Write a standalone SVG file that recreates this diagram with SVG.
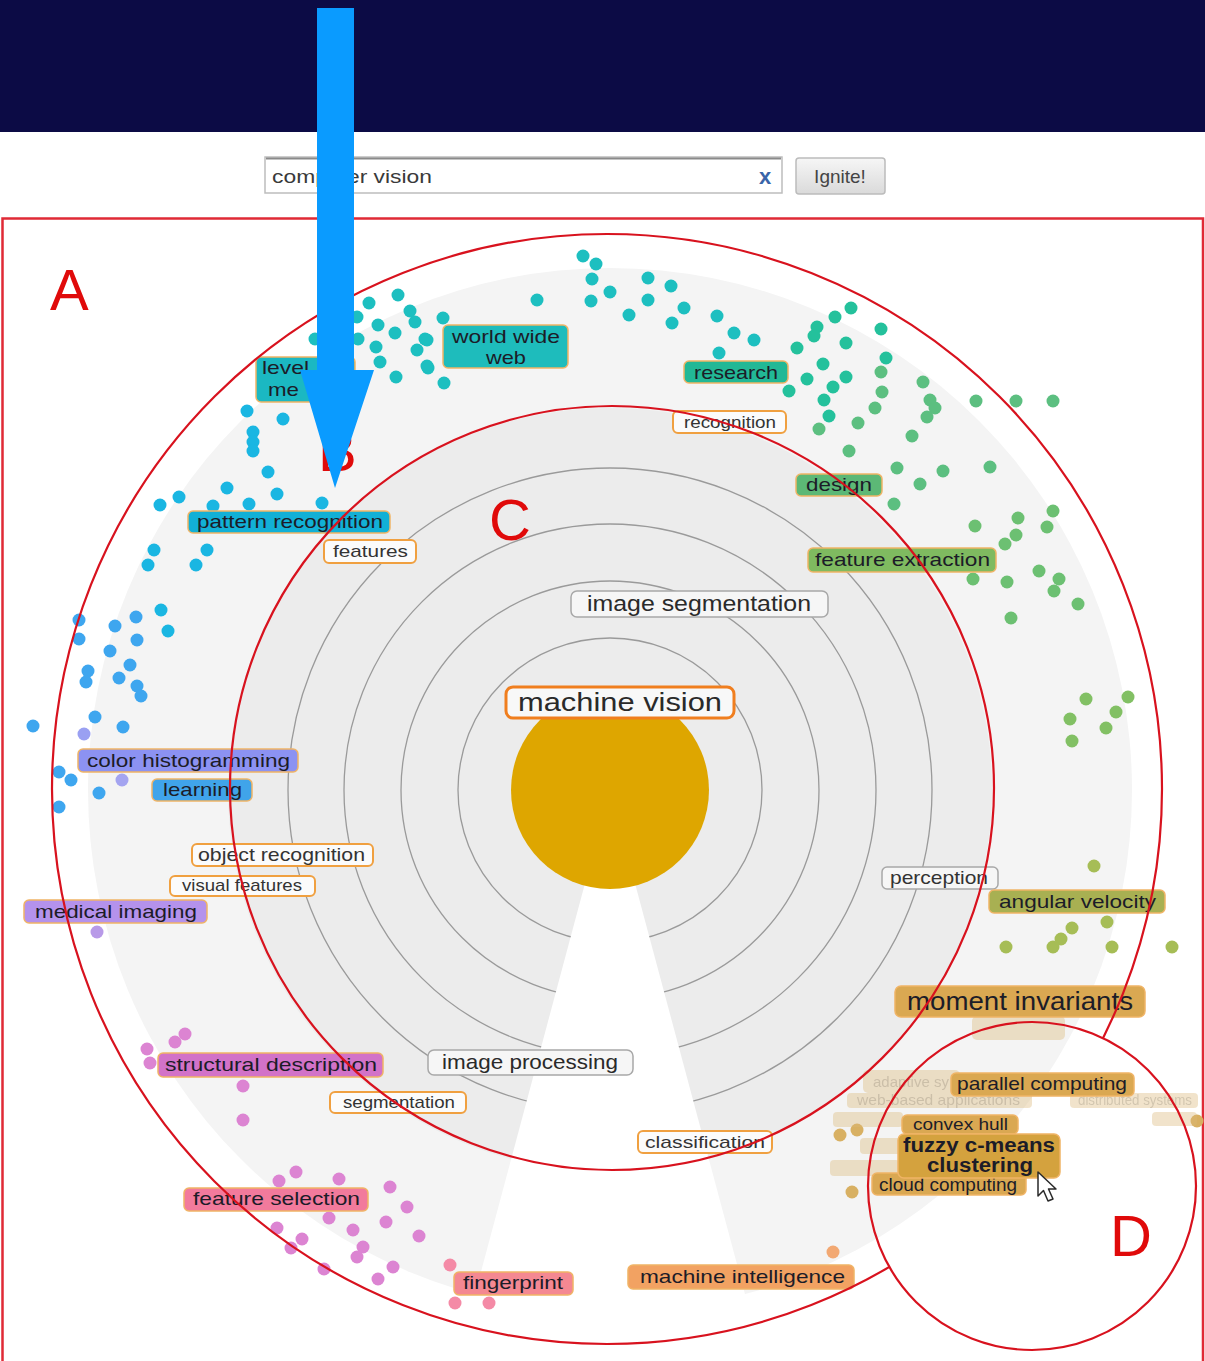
<svg xmlns="http://www.w3.org/2000/svg" width="1205" height="1361" viewBox="0 0 1205 1361">
  <defs>
    <style>
      .lbl { font-family: "Liberation Sans", Arial, sans-serif; font-size: 19px; fill: #1c1c28; }
      .sm { font-size: 17px; fill: #333; }
      .box { stroke: #f0b466; stroke-width: 1.5; }
      .wbox { fill: #fbfbfb; stroke: #f0a040; stroke-width: 2; }
      .gbox { fill: #f6f6f6; stroke: #a8a8a8; stroke-width: 1.5; }
      .fade rect { fill: #dcb878; stroke: none; }
      .fade text { font-family: "Liberation Sans", Arial, sans-serif; font-size: 15px; fill: #8a6a30; }
      .ring { fill: none; stroke: #9a9a9a; stroke-width: 1.3; }
      .red { fill: none; stroke: #d8121e; stroke-width: 2.2; }
      .mark { font-family: "Liberation Sans", Arial, sans-serif; font-size: 58px; fill: #e00a0a; }
      .d-teal circle { fill: #1dbfc0; }
      .d-cyan circle { fill: #1ab6e2; }
      .d-blue circle { fill: #3ea6ef; }
      .d-gteal circle { fill: #24c19c; }
      .d-green circle { fill: #5cbf80; }
      .d-green2 circle { fill: #6cc072; }
      .d-yg circle { fill: #82c064; }
      .d-olive circle { fill: #a6bd56; }
      .d-mag circle { fill: #dc84d2; }
      .d-pink circle { fill: #f48aa6; }
    </style>
    <linearGradient id="btn" x1="0" y1="0" x2="0" y2="1">
      <stop offset="0" stop-color="#f6f6f6"/>
      <stop offset="1" stop-color="#dadada"/>
    </linearGradient>
    <mask id="outsideD">
      <rect x="0" y="0" width="1205" height="1361" fill="#fff"/>
      <circle cx="1032" cy="1186" r="164" fill="#000"/>
    </mask>
  </defs>

  <!-- page background and title bar -->
  <rect x="0" y="0" width="1205" height="1361" fill="#ffffff"/>
  <rect x="0" y="0" width="1205" height="132" fill="#0c0b45"/>

  <!-- search field -->
  <g id="search">
    <rect x="265" y="157" width="517" height="36" fill="#fff" stroke="#bdbdbd" stroke-width="1.5"/>
    <line x1="266" y1="158.5" x2="781" y2="158.5" stroke="#8a8a8a" stroke-width="2"/>
    <text class="lbl" x="272" y="183" style="fill:#3a3a3a" textLength="160" lengthAdjust="spacingAndGlyphs">computer vision</text>
    <text x="759" y="184" style="font-family:'Liberation Sans',Arial,sans-serif;font-size:22px;font-weight:bold;fill:#3a64a8">x</text>
  </g>
  <g id="ignite-button">
    <rect x="796" y="158" width="89" height="36" rx="3" fill="url(#btn)" stroke="#bcbcbc" stroke-width="1.5"/>
    <text class="lbl" x="840" y="183" text-anchor="middle" style="fill:#444">Ignite!</text>
  </g>

  <!-- frame round the view -->
  <path d="M2.5,1361 V218.5 H1203 V1361" fill="none" stroke="#e02a36" stroke-width="2.5"/>

  <!-- radial backdrop: outer band, inner disc, rings, open wedge -->
  <circle cx="610" cy="790" r="522" fill="#f4f4f4"/>
  <circle cx="610" cy="790" r="382" fill="#ececec"/>
  <circle class="ring" cx="610" cy="790" r="152"/>
  <circle class="ring" cx="610" cy="790" r="209"/>
  <circle class="ring" cx="610" cy="790" r="266"/>
  <circle class="ring" cx="610" cy="790" r="322"/>
  <polygon points="610,790 452,1380 768,1380" fill="#ffffff"/>

  <!-- focus term -->
  <circle id="focus" cx="610" cy="790" r="99" fill="#dea600"/>

  <!-- term dots -->
  <g class="d-teal">
    <circle cx="398" cy="295" r="6.5"/><circle cx="369" cy="303" r="6.5"/><circle cx="410" cy="311" r="6.5"/>
    <circle cx="357" cy="317" r="6.5"/><circle cx="378" cy="325" r="6.5"/><circle cx="415" cy="322" r="6.5"/>
    <circle cx="395" cy="333" r="6.5"/><circle cx="425" cy="339" r="6.5"/><circle cx="358" cy="339" r="6.5"/>
    <circle cx="376" cy="347" r="6.5"/><circle cx="417" cy="350" r="6.5"/><circle cx="380" cy="362" r="6.5"/>
    <circle cx="428" cy="368" r="6.5"/><circle cx="396" cy="377" r="6.5"/><circle cx="443" cy="318" r="6.5"/>
    <circle cx="444" cy="383" r="6.5"/><circle cx="315" cy="339" r="6.5"/><circle cx="427" cy="340" r="6.5"/>
    <circle cx="427" cy="366" r="6.5"/><circle cx="537" cy="300" r="6.5"/><circle cx="583" cy="256" r="6.5"/>
    <circle cx="596" cy="264" r="6.5"/><circle cx="592" cy="279" r="6.5"/><circle cx="610" cy="292" r="6.5"/>
    <circle cx="591" cy="301" r="6.5"/><circle cx="648" cy="278" r="6.5"/><circle cx="671" cy="286" r="6.5"/>
    <circle cx="648" cy="300" r="6.5"/><circle cx="629" cy="315" r="6.5"/><circle cx="684" cy="308" r="6.5"/>
    <circle cx="672" cy="323" r="6.5"/><circle cx="717" cy="316" r="6.5"/><circle cx="734" cy="333" r="6.5"/>
    <circle cx="754" cy="340" r="6.5"/><circle cx="719" cy="353" r="6.5"/>
  </g>
  <g class="d-gteal">
    <circle cx="835" cy="317" r="6.5"/><circle cx="851" cy="308" r="6.5"/><circle cx="881" cy="329" r="6.5"/>
    <circle cx="817" cy="327" r="6.5"/><circle cx="814" cy="336" r="6.5"/><circle cx="797" cy="348" r="6.5"/>
    <circle cx="846" cy="343" r="6.5"/><circle cx="886" cy="358" r="6.5"/><circle cx="823" cy="364" r="6.5"/>
    <circle cx="807" cy="379" r="6.5"/><circle cx="846" cy="377" r="6.5"/><circle cx="833" cy="387" r="6.5"/>
    <circle cx="789" cy="391" r="6.5"/><circle cx="824" cy="400" r="6.5"/><circle cx="829" cy="416" r="6.5"/>
  </g>
  <g class="d-green">
    <circle cx="881" cy="372" r="6.5"/><circle cx="882" cy="392" r="6.5"/><circle cx="875" cy="408" r="6.5"/>
    <circle cx="858" cy="423" r="6.5"/><circle cx="819" cy="429" r="6.5"/><circle cx="849" cy="451" r="6.5"/>
    <circle cx="912" cy="436" r="6.5"/><circle cx="923" cy="382" r="6.5"/><circle cx="930" cy="400" r="6.5"/>
    <circle cx="935" cy="408" r="6.5"/><circle cx="927" cy="417" r="6.5"/><circle cx="976" cy="401" r="6.5"/>
    <circle cx="1016" cy="401" r="6.5"/><circle cx="1053" cy="401" r="6.5"/><circle cx="897" cy="468" r="6.5"/>
    <circle cx="943" cy="471" r="6.5"/><circle cx="990" cy="467" r="6.5"/><circle cx="920" cy="484" r="6.5"/>
    <circle cx="894" cy="504" r="6.5"/>
  </g>
  <g class="d-green2">
    <circle cx="975" cy="526" r="6.5"/><circle cx="1018" cy="518" r="6.5"/><circle cx="1053" cy="511" r="6.5"/>
    <circle cx="1047" cy="527" r="6.5"/><circle cx="1016" cy="535" r="6.5"/><circle cx="1005" cy="544" r="6.5"/>
    <circle cx="973" cy="579" r="6.5"/><circle cx="1007" cy="582" r="6.5"/><circle cx="1039" cy="571" r="6.5"/>
    <circle cx="1059" cy="579" r="6.5"/><circle cx="1054" cy="591" r="6.5"/><circle cx="1078" cy="604" r="6.5"/>
    <circle cx="1011" cy="618" r="6.5"/>
  </g>
  <g class="d-yg">
    <circle cx="1086" cy="699" r="6.5"/><circle cx="1128" cy="697" r="6.5"/><circle cx="1116" cy="712" r="6.5"/>
    <circle cx="1070" cy="719" r="6.5"/><circle cx="1106" cy="728" r="6.5"/><circle cx="1072" cy="741" r="6.5"/>
  </g>
  <g class="d-olive">
    <circle cx="1094" cy="866" r="6.5"/><circle cx="1107" cy="922" r="6.5"/><circle cx="1072" cy="928" r="6.5"/>
    <circle cx="1061" cy="939" r="6.5"/><circle cx="1053" cy="947" r="6.5"/><circle cx="1006" cy="947" r="6.5"/>
    <circle cx="1112" cy="947" r="6.5"/><circle cx="1172" cy="947" r="6.5"/>
  </g>
  <g class="d-cyan">
    <circle cx="247" cy="411" r="6.5"/><circle cx="283" cy="419" r="6.5"/><circle cx="253" cy="432" r="6.5"/>
    <circle cx="253" cy="442" r="6.5"/><circle cx="253" cy="451" r="6.5"/><circle cx="268" cy="472" r="6.5"/>
    <circle cx="227" cy="488" r="6.5"/><circle cx="277" cy="494" r="6.5"/><circle cx="179" cy="497" r="6.5"/>
    <circle cx="160" cy="505" r="6.5"/><circle cx="213" cy="506" r="6.5"/><circle cx="249" cy="504" r="6.5"/>
    <circle cx="322" cy="503" r="6.5"/><circle cx="154" cy="550" r="6.5"/><circle cx="148" cy="565" r="6.5"/>
    <circle cx="207" cy="550" r="6.5"/><circle cx="196" cy="565" r="6.5"/><circle cx="161" cy="610" r="6.5"/>
    <circle cx="168" cy="631" r="6.5"/>
  </g>
  <g class="d-blue">
    <circle cx="79" cy="620" r="6.5"/><circle cx="79" cy="639" r="6.5"/><circle cx="115" cy="626" r="6.5"/>
    <circle cx="136" cy="617" r="6.5"/><circle cx="137" cy="640" r="6.5"/><circle cx="110" cy="651" r="6.5"/>
    <circle cx="130" cy="665" r="6.5"/><circle cx="88" cy="671" r="6.5"/><circle cx="86" cy="682" r="6.5"/>
    <circle cx="119" cy="678" r="6.5"/><circle cx="137" cy="686" r="6.5"/><circle cx="141" cy="696" r="6.5"/>
    <circle cx="95" cy="717" r="6.5"/><circle cx="33" cy="726" r="6.5"/><circle cx="123" cy="727" r="6.5"/>
    <circle cx="59" cy="772" r="6.5"/><circle cx="71" cy="780" r="6.5"/><circle cx="99" cy="793" r="6.5"/>
    <circle cx="59" cy="807" r="6.5"/>
  </g>
  <circle cx="84" cy="734" r="6.5" fill="#9aa0f2"/>
  <circle cx="122" cy="780" r="6.5" fill="#a4a4f0"/>
  <circle cx="97" cy="932" r="6.5" fill="#b89ae8"/>
  <g class="d-mag">
    <circle cx="185" cy="1034" r="6.5"/><circle cx="175" cy="1042" r="6.5"/><circle cx="147" cy="1049" r="6.5"/>
    <circle cx="150" cy="1063" r="6.5"/><circle cx="243" cy="1086" r="6.5"/><circle cx="243" cy="1120" r="6.5"/>
    <circle cx="296" cy="1172" r="6.5"/><circle cx="279" cy="1181" r="6.5"/><circle cx="339" cy="1179" r="6.5"/>
    <circle cx="390" cy="1187" r="6.5"/><circle cx="407" cy="1207" r="6.5"/><circle cx="329" cy="1218" r="6.5"/>
    <circle cx="277" cy="1228" r="6.5"/><circle cx="302" cy="1239" r="6.5"/><circle cx="291" cy="1248" r="6.5"/>
    <circle cx="353" cy="1230" r="6.5"/><circle cx="386" cy="1222" r="6.5"/><circle cx="419" cy="1236" r="6.5"/>
    <circle cx="363" cy="1247" r="6.5"/><circle cx="357" cy="1257" r="6.5"/><circle cx="324" cy="1269" r="6.5"/>
    <circle cx="378" cy="1279" r="6.5"/><circle cx="393" cy="1267" r="6.5"/>
  </g>
  <g class="d-pink">
    <circle cx="450" cy="1265" r="6.5"/><circle cx="455" cy="1303" r="6.5"/><circle cx="489" cy="1303" r="6.5"/>
  </g>
  <circle cx="833" cy="1252" r="6.5" fill="#f2a872"/>
  <circle cx="840" cy="1135" r="6.5" fill="#d8b062"/>
  <circle cx="857" cy="1130" r="6.5" fill="#d8b062"/>
  <circle cx="852" cy="1192" r="6.5" fill="#d8b062"/>
  <circle cx="1197" cy="1121" r="6.5" fill="#d8b062"/>

  <!-- faded neighbour terms in the magnified area -->
  <g class="fade" opacity="0.38">
    <rect x="972" y="1016" width="93" height="24" rx="5"/>
    <rect x="863" y="1070" width="97" height="23" rx="5"/>
    <text x="873" y="1087" textLength="76" lengthAdjust="spacingAndGlyphs">adaptive sy</text>
    <rect x="847" y="1093" width="185" height="15" rx="4"/>
    <text x="857" y="1105" textLength="163" lengthAdjust="spacingAndGlyphs">web-based applications</text>
    <rect x="1070" y="1093" width="128" height="15" rx="4"/>
    <text x="1078" y="1105" textLength="114" lengthAdjust="spacingAndGlyphs">distributed systems</text>
    <rect x="833" y="1112" width="70" height="15" rx="4"/>
    <rect x="1152" y="1112" width="45" height="14" rx="4"/>
    <rect x="860" y="1138" width="50" height="16" rx="4"/>
    <rect x="830" y="1160" width="70" height="16" rx="4"/>
  </g>

  <!-- term labels -->
  <g id="n-level">
    <rect class="box" x="256" y="357" width="99" height="45" rx="5" fill="#1bb8c2"/>
    <text class="lbl" x="262" y="374" textLength="47" lengthAdjust="spacingAndGlyphs">level</text>
    <text class="lbl" x="268" y="396" textLength="31" lengthAdjust="spacingAndGlyphs">me</text>
  </g>
  <g id="n-world-wide-web">
    <rect class="box" x="443" y="325" width="125" height="43" rx="5" fill="#1ebcbc"/>
    <text class="lbl" x="452" y="343" textLength="108" lengthAdjust="spacingAndGlyphs">world wide</text>
    <text class="lbl" x="486" y="364" textLength="40" lengthAdjust="spacingAndGlyphs">web</text>
  </g>
  <g id="n-pattern-recognition">
    <rect class="box" x="188" y="511" width="202" height="22" rx="5" fill="#12b0d6"/>
    <text class="lbl" x="197" y="528" textLength="186" lengthAdjust="spacingAndGlyphs">pattern recognition</text>
  </g>
  <g id="n-research">
    <rect class="box" x="684" y="361" width="104" height="22" rx="5" fill="#22b896"/>
    <text class="lbl" x="694" y="379" textLength="84" lengthAdjust="spacingAndGlyphs">research</text>
  </g>
  <g id="n-recognition">
    <rect class="wbox" x="673" y="411" width="113" height="22" rx="5"/>
    <text class="lbl sm" x="684" y="428" textLength="92" lengthAdjust="spacingAndGlyphs">recognition</text>
  </g>
  <g id="n-design">
    <rect class="box" x="796" y="474" width="86" height="22" rx="5" fill="#5cb876"/>
    <text class="lbl" x="806" y="491" textLength="66" lengthAdjust="spacingAndGlyphs">design</text>
  </g>
  <g id="n-feature-extraction">
    <rect class="box" x="808" y="548" width="188" height="24" rx="5" fill="#7fba60"/>
    <text class="lbl" x="815" y="566" textLength="175" lengthAdjust="spacingAndGlyphs">feature extraction</text>
  </g>
  <g id="n-features">
    <rect class="wbox" x="324" y="540" width="92" height="23" rx="5"/>
    <text class="lbl sm" x="333" y="557" textLength="75" lengthAdjust="spacingAndGlyphs">features</text>
  </g>
  <g id="n-image-segmentation">
    <rect class="gbox" x="571" y="591" width="257" height="26" rx="6"/>
    <text class="lbl" x="587" y="611" style="font-size:22px;fill:#2a2a2a" textLength="224" lengthAdjust="spacingAndGlyphs">image segmentation</text>
  </g>
  <g id="n-machine-vision">
    <rect x="506" y="687" width="228" height="31" rx="7" fill="#f8f8f8" stroke="#f07e1e" stroke-width="3"/>
    <text class="lbl" x="518" y="711" style="font-size:26px;fill:#2a2a2a" textLength="204" lengthAdjust="spacingAndGlyphs">machine vision</text>
  </g>
  <g id="n-color-histogramming">
    <rect class="box" x="78" y="749" width="220" height="23" rx="5" fill="#8c92f2"/>
    <text class="lbl" x="87" y="767" textLength="203" lengthAdjust="spacingAndGlyphs">color histogramming</text>
  </g>
  <g id="n-learning">
    <rect class="box" x="152" y="779" width="100" height="22" rx="5" fill="#40a4ea"/>
    <text class="lbl" x="163" y="796" textLength="79" lengthAdjust="spacingAndGlyphs">learning</text>
  </g>
  <g id="n-object-recognition">
    <rect class="wbox" x="192" y="844" width="181" height="22" rx="5"/>
    <text class="lbl" x="198" y="861" style="fill:#333" textLength="167" lengthAdjust="spacingAndGlyphs">object recognition</text>
  </g>
  <g id="n-visual-features">
    <rect class="wbox" x="170" y="876" width="145" height="20" rx="5"/>
    <text class="lbl sm" x="182" y="891" textLength="120" lengthAdjust="spacingAndGlyphs">visual features</text>
  </g>
  <g id="n-medical-imaging">
    <rect class="box" x="24" y="900" width="183" height="23" rx="5" fill="#b492ec"/>
    <text class="lbl" x="35" y="918" textLength="162" lengthAdjust="spacingAndGlyphs">medical imaging</text>
  </g>
  <g id="n-perception">
    <rect class="gbox" x="882" y="867" width="116" height="22" rx="5"/>
    <text class="lbl" x="890" y="884" style="fill:#333" textLength="98" lengthAdjust="spacingAndGlyphs">perception</text>
  </g>
  <g id="n-angular-velocity">
    <rect class="box" x="989" y="890" width="176" height="23" rx="5" fill="#a8b052"/>
    <text class="lbl" x="999" y="908" textLength="157" lengthAdjust="spacingAndGlyphs">angular velocity</text>
  </g>
  <g id="n-moment-invariants">
    <rect class="box" x="895" y="986" width="250" height="31" rx="6" fill="#daa852"/>
    <text class="lbl" x="907" y="1010" style="font-size:25px" textLength="226" lengthAdjust="spacingAndGlyphs">moment invariants</text>
  </g>
  <g id="n-parallel-computing">
    <rect class="box" x="951" y="1073" width="183" height="23" rx="5" fill="#daa852"/>
    <text class="lbl" x="957" y="1090" textLength="170" lengthAdjust="spacingAndGlyphs">parallel computing</text>
  </g>
  <g id="n-convex-hull">
    <rect class="box" x="902" y="1115" width="116" height="19" rx="5" fill="#daa852"/>
    <text class="lbl sm" x="913" y="1130" style="fill:#1c1c28" textLength="95" lengthAdjust="spacingAndGlyphs">convex hull</text>
  </g>
  <g id="n-cloud-computing">
    <rect class="box" x="872" y="1173" width="154" height="22" rx="5" fill="#daa852"/>
    <text class="lbl" x="879" y="1191" textLength="138" lengthAdjust="spacingAndGlyphs">cloud computing</text>
  </g>
  <g id="n-fuzzy-c-means-clustering">
    <rect class="box" x="898" y="1134" width="162" height="44" rx="6" fill="#d4a23e"/>
    <text class="lbl" x="903" y="1152" style="font-size:20px;font-weight:bold" textLength="152" lengthAdjust="spacingAndGlyphs">fuzzy c-means</text>
    <text class="lbl" x="927" y="1172" style="font-size:20px;font-weight:bold" textLength="106" lengthAdjust="spacingAndGlyphs">clustering</text>
  </g>
  <g id="n-structural-description">
    <rect class="box" x="158" y="1053" width="225" height="24" rx="5" fill="#d272c8"/>
    <text class="lbl" x="165" y="1071" textLength="212" lengthAdjust="spacingAndGlyphs">structural description</text>
  </g>
  <g id="n-segmentation">
    <rect class="wbox" x="330" y="1092" width="136" height="21" rx="5"/>
    <text class="lbl sm" x="343" y="1108" textLength="112" lengthAdjust="spacingAndGlyphs">segmentation</text>
  </g>
  <g id="n-image-processing">
    <rect class="gbox" x="428" y="1050" width="205" height="25" rx="6"/>
    <text class="lbl" x="442" y="1069" style="font-size:21px;fill:#2a2a2a" textLength="176" lengthAdjust="spacingAndGlyphs">image processing</text>
  </g>
  <g id="n-feature-selection">
    <rect class="box" x="184" y="1188" width="184" height="23" rx="5" fill="#f27a9c"/>
    <text class="lbl" x="193" y="1205" textLength="167" lengthAdjust="spacingAndGlyphs">feature selection</text>
  </g>
  <g id="n-fingerprint">
    <rect class="box" x="454" y="1272" width="119" height="23" rx="5" fill="#f48892"/>
    <text class="lbl" x="463" y="1289" textLength="100" lengthAdjust="spacingAndGlyphs">fingerprint</text>
  </g>
  <g id="n-classification">
    <rect class="wbox" x="638" y="1131" width="134" height="22" rx="5"/>
    <text class="lbl sm" x="645" y="1148" textLength="120" lengthAdjust="spacingAndGlyphs">classification</text>
  </g>
  <g id="n-machine-intelligence">
    <rect class="box" x="628" y="1265" width="226" height="24" rx="5" fill="#f2a262"/>
    <text class="lbl" x="640" y="1283" textLength="205" lengthAdjust="spacingAndGlyphs">machine intelligence</text>
  </g>

  <!-- mouse pointer -->
  <path d="M1038,1172 L1038,1196 L1043.5,1190.5 L1048,1201 L1053,1199 L1048.5,1189 L1056,1189 Z" fill="#ffffff" stroke="#2a2a2a" stroke-width="1.5" stroke-linejoin="round"/>

  <!-- region outlines and their letters -->
  <g id="regions">
    <circle class="red" cx="607" cy="789" r="555" mask="url(#outsideD)"/>
    <circle class="red" cx="612" cy="788" r="382"/>
    <circle class="red" cx="1032" cy="1186" r="164"/>
    <text class="mark" x="50" y="310">A</text>
    <text class="mark" x="318" y="471">B</text>
    <text class="mark" x="489" y="540">C</text>
    <text class="mark" x="1110" y="1256">D</text>
  </g>

  <!-- pointer arrow -->
  <g id="connectors">
    <polygon points="317,8 354,8 354,370 374,370 335,488 300,370 317,370" fill="#0a9bff"/>
  </g>
</svg>
